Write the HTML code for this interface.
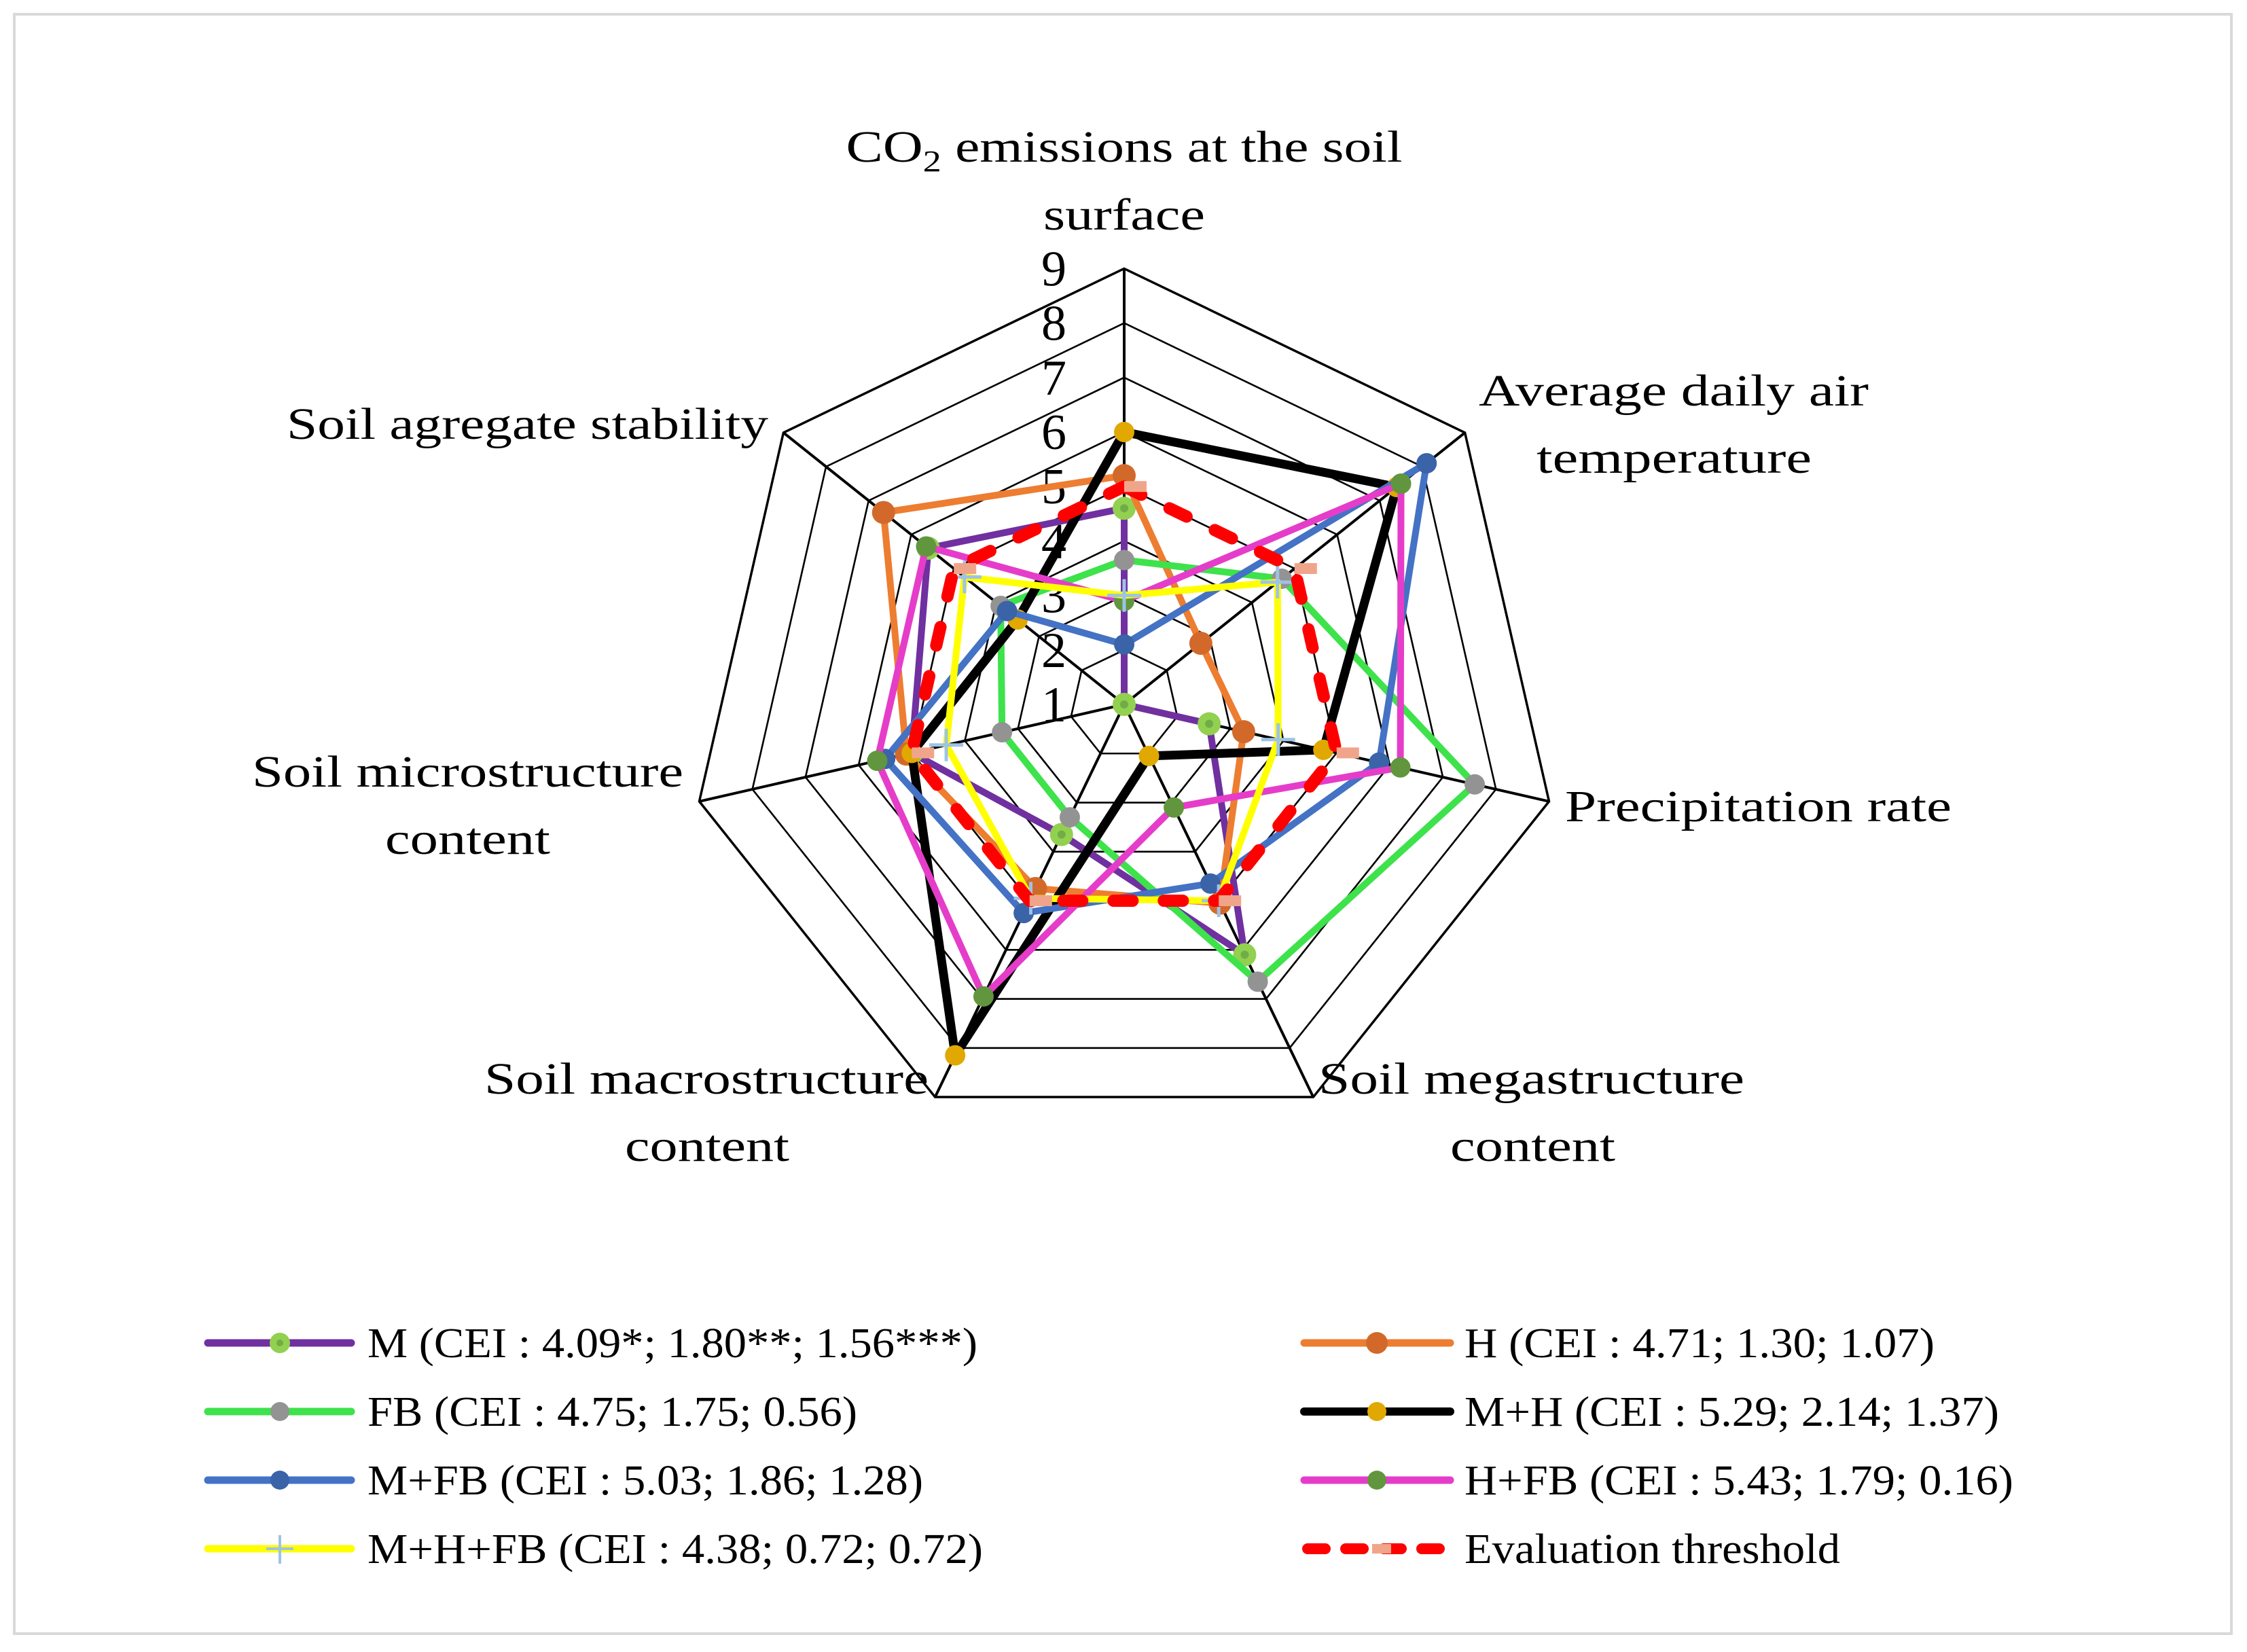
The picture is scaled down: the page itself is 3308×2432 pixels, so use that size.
<!DOCTYPE html>
<html><head><meta charset="utf-8">
<style>
html,body{margin:0;padding:0;background:#fff;}
svg{display:block;}
text{font-family:"Liberation Serif",serif;fill:#000;}
</style></head>
<body>
<svg id="chart" width="3308" height="2432" viewBox="0 0 3308 2432" xmlns="http://www.w3.org/2000/svg">
<rect x="21" y="21" width="3264" height="2384" fill="#fff" stroke="#d9d9d9" stroke-width="4"/>
<g id="grid"></g>
<g id="ticks"></g>
<g id="series"></g>
<g font-size="66">
  <text x="1655" y="238" text-anchor="middle" textLength="819" lengthAdjust="spacingAndGlyphs">CO<tspan font-size="44" dy="14">2</tspan><tspan dy="-14"> emissions at the soil</tspan></text>
  <text x="1655" y="338" text-anchor="middle" textLength="238" lengthAdjust="spacingAndGlyphs">surface</text>
  <text x="2177" y="597" textLength="574" lengthAdjust="spacingAndGlyphs">Average daily air</text>
  <text x="2262" y="696" textLength="405" lengthAdjust="spacingAndGlyphs">temperature</text>
  <text x="2304" y="1209" textLength="569" lengthAdjust="spacingAndGlyphs">Precipitation rate</text>
  <text x="1941" y="1610" textLength="627" lengthAdjust="spacingAndGlyphs">Soil megastructure</text>
  <text x="2135" y="1709" textLength="243" lengthAdjust="spacingAndGlyphs">content</text>
  <text x="713" y="1610" textLength="654" lengthAdjust="spacingAndGlyphs">Soil macrostructure</text>
  <text x="920" y="1709" textLength="242" lengthAdjust="spacingAndGlyphs">content</text>
  <text x="371" y="1158" textLength="635" lengthAdjust="spacingAndGlyphs">Soil microstructure</text>
  <text x="567" y="1257" textLength="243" lengthAdjust="spacingAndGlyphs">content</text>
  <text x="422" y="646" textLength="709" lengthAdjust="spacingAndGlyphs">Soil agregate stability</text>
</g>
<g font-size="62">
  <g>
    <line x1="306" y1="1977" x2="517" y2="1977" stroke="#7030a0" stroke-width="11" stroke-linecap="round"/>
    <circle cx="412" cy="1977" r="15" fill="#92d050"/><circle cx="412" cy="1977" r="5" fill="#70ad47"/>
    <text x="541" y="1998" textLength="898" lengthAdjust="spacingAndGlyphs">M (CEI : 4.09*; 1.80**; 1.56***)</text>
  </g>
  <g>
    <line x1="306" y1="2078" x2="517" y2="2078" stroke="#3ee24b" stroke-width="11" stroke-linecap="round"/>
    <circle cx="412" cy="2078" r="14" fill="#939393"/>
    <text x="541" y="2099" textLength="721" lengthAdjust="spacingAndGlyphs">FB (CEI : 4.75; 1.75; 0.56)</text>
  </g>
  <g>
    <line x1="306" y1="2179" x2="517" y2="2179" stroke="#4472c4" stroke-width="11" stroke-linecap="round"/>
    <circle cx="412" cy="2179" r="14" fill="#3a63a8"/>
    <text x="541" y="2200" textLength="818" lengthAdjust="spacingAndGlyphs">M+FB (CEI : 5.03; 1.86; 1.28)</text>
  </g>
  <g>
    <line x1="306" y1="2280" x2="517" y2="2280" stroke="#ffff00" stroke-width="11" stroke-linecap="round"/>
    <line x1="392" y1="2280" x2="432" y2="2280" stroke="#9dc3e6" stroke-width="4"/><line x1="412" y1="2260" x2="412" y2="2302" stroke="#9dc3e6" stroke-width="4"/>
    <text x="541" y="2301" textLength="906" lengthAdjust="spacingAndGlyphs">M+H+FB (CEI : 4.38; 0.72; 0.72)</text>
  </g>
  <g>
    <line x1="1920" y1="1977" x2="2135" y2="1977" stroke="#ed7d31" stroke-width="11" stroke-linecap="round"/>
    <circle cx="2027" cy="1977" r="16" fill="#d2692a"/>
    <text x="2156" y="1998" textLength="692" lengthAdjust="spacingAndGlyphs">H (CEI : 4.71; 1.30; 1.07)</text>
  </g>
  <g>
    <line x1="1920" y1="2078" x2="2135" y2="2078" stroke="#000" stroke-width="12" stroke-linecap="round"/>
    <circle cx="2027" cy="2078" r="14" fill="#e0a800"/>
    <text x="2156" y="2099" textLength="787" lengthAdjust="spacingAndGlyphs">M+H (CEI : 5.29; 2.14; 1.37)</text>
  </g>
  <g>
    <line x1="1920" y1="2179" x2="2135" y2="2179" stroke="#e53dc9" stroke-width="11" stroke-linecap="round"/>
    <circle cx="2027" cy="2179" r="14" fill="#61963e"/>
    <text x="2156" y="2200" textLength="808" lengthAdjust="spacingAndGlyphs">H+FB (CEI : 5.43; 1.79; 0.16)</text>
  </g>
  <g>
    <line x1="1925" y1="2280" x2="2130" y2="2280" stroke="#ff0000" stroke-width="16" stroke-linecap="round" stroke-dasharray="26 30"/>
    <rect x="2020" y="2273" width="28" height="14" fill="#f0a58a"/>
    <text x="2156" y="2301" textLength="553" lengthAdjust="spacingAndGlyphs">Evaluation threshold</text>
  </g>
</g>
</svg>
<script>
const categories = ["CO2 emissions at the soil surface","Average daily air temperature","Precipitation rate","Soil megastructure content","Soil macrostructure content","Soil microstructure content","Soil agregate stability"];
const tickLabels = [1,2,3,4,5,6,7,8,9];
const valuesM = [4.6, 1.0, 2.6, 6.1, 3.65, 5.0, 5.6];
const valuesH = [5.2, 2.8, 3.25, 5.05, 4.75, 5.1, 6.65];
const valuesFB = [3.65, 4.7, 7.6, 6.65, 3.3, 3.3, 3.9];
const valuesMH = [6.0, 7.4, 4.75, 2.05, 8.15, 5.0, 3.5];
const valuesMFB = [2.1, 8.1, 5.8, 4.65, 5.25, 5.5, 3.75];
const valuesHFB = [2.9, 7.5, 6.2, 3.1, 6.95, 5.65, 5.65];
const valuesMHFB = [3.0, 4.6, 3.9, 5.0, 4.95, 4.35, 4.75];
const valuesThreshold = [5, 5, 5, 5, 5, 5, 5];

const NS = "http://www.w3.org/2000/svg";
const CX = 1655, CY = 1037, R = 641.6, VMIN = 1, VMAX = 9;
const N = categories.length;
function rScale(v){ return (v - VMIN) / (VMAX - VMIN) * R; }
function pt(i, v){
  const a = 2*Math.PI*i/N;
  const r = rScale(v);
  return [CX + r*Math.sin(a), CY - r*Math.cos(a)];
}
function mk(tag, attrs, parent){
  const e = document.createElementNS(NS, tag);
  for (const k in attrs) e.setAttribute(k, attrs[k]);
  parent.appendChild(e);
  return e;
}
const grid = document.getElementById('grid');
for (let k = 2; k <= 9; k++){
  const pts = [];
  for (let i = 0; i < N; i++) pts.push(pt(i, k).join(','));
  const ring = mk('polygon', {points: pts.join(' '), fill:'none', stroke:'#000', 'stroke-width': k===9?3.5:2.6}, grid);
  
  
}
for (let i = 0; i < N; i++){
  const b = pt(i, 9);
  const sp = mk('line', {x1:CX, y1:CY, x2:b[0], y2:b[1], stroke:'#000', 'stroke-width':4}, grid);
  
  
}
const ticks = document.getElementById('ticks');
tickLabels.forEach(function(t){
  const p = pt(0, t);
  const tx = mk('text', {x: 1570, y: p[1] + 25, 'text-anchor':'end', 'font-size': 74}, ticks);
  tx.textContent = String(t);
  
  
});
const seriesDefs = [
  {name:'m', vals: valuesM, color:'#7030a0', w:10, marker:'dotM'},
  {name:'h', vals: valuesH, color:'#ed7d31', w:10, marker:'dot', mc:'#d2692a', mr:17},
  {name:'fb', vals: valuesFB, color:'#3ee24b', w:10, marker:'dot', mc:'#939393', mr:15},
  {name:'m-h', vals: valuesMH, color:'#000000', w:13, marker:'dot', mc:'#e0a800', mr:15},
  {name:'m-fb', vals: valuesMFB, color:'#4472c4', w:10, marker:'dot', mc:'#3a63a8', mr:15},
  {name:'h-fb', vals: valuesHFB, color:'#e53dc9', w:10, marker:'dot', mc:'#61963e', mr:15},
  {name:'m-h-fb', vals: valuesMHFB, color:'#ffff00', w:10, marker:'plus'},
  {name:'evaluation-threshold', vals: valuesThreshold, color:'#ff0000', w:18, marker:'rect', dash:'28 46'}
];
const layer = document.getElementById('series');
seriesDefs.forEach(function(s){
  const g = mk('g', {}, layer);
  
  
  const pts = s.vals.map(function(v, i){ return pt(i, v); });
  const attrs = {points: pts.map(function(p){return p.join(',');}).join(' '), fill:'none', stroke:s.color, 'stroke-width':s.w, 'stroke-linejoin':'round'};
  if (s.dash){ attrs['stroke-dasharray'] = s.dash; attrs['stroke-linecap'] = 'round'; }
  const poly = mk('polygon', attrs, g);
  
  
  pts.forEach(function(p, i){
    let m;
    if (s.marker === 'dotM'){
      m = mk('g', {}, g);
      mk('circle', {cx:p[0], cy:p[1], r:17, fill:'#92d050'}, m);
      mk('circle', {cx:p[0], cy:p[1], r:6, fill:'#70ad47'}, m);
    } else if (s.marker === 'dot'){
      m = mk('circle', {cx:p[0], cy:p[1], r:s.mr, fill:s.mc}, g);
    } else if (s.marker === 'plus'){
      m = mk('g', {stroke:'#9dc3e6', 'stroke-width':5}, g);
      mk('line', {x1:p[0]-25, y1:p[1], x2:p[0]+25, y2:p[1]}, m);
      mk('line', {x1:p[0], y1:p[1]-24, x2:p[0], y2:p[1]+24}, m);
    } else {
      m = mk('rect', {x:p[0], y:p[1]-8, width:33, height:16, fill:'#f0a58a'}, g);
    }
    
    
  });
});
</script>
</body></html>
